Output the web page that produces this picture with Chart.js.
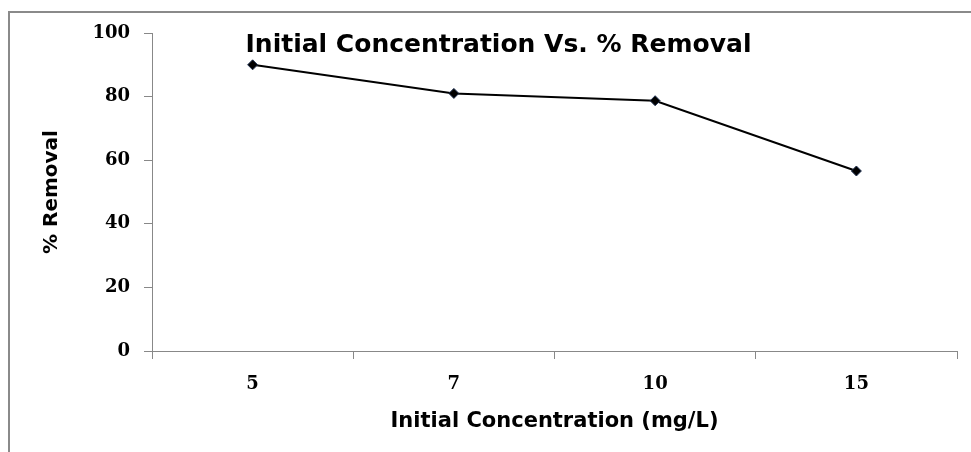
<!DOCTYPE html>
<html>
<head>
<meta charset="utf-8">
<script src="https://cdn.jsdelivr.net/npm/chart.js@4"></script>
<style>
  html, body { margin: 0; padding: 0; background: #fff; }
  #wrap { width: 971px; height: 452px; position: relative; }
</style>
</head>
<body>
<div id="wrap"><canvas id="chart"></canvas></div>
<script>
const categories = ["5", "7", "10", "15"];
const removal = [90, 81, 78.7, 56.6];
const yTicks = [0, 20, 40, 60, 80, 100];

const titleFont = "'DejaVu Sans', sans-serif";
const tickFont = "'DejaVu Serif', serif";
const axisGray = "#888888";

// gray frame around the chart, runs off the right and bottom edges
const framePlugin = {
  id: "frame",
  beforeDraw(chart) {
    const ctx = chart.ctx;
    ctx.save();
    ctx.fillStyle = "#ffffff";
    ctx.fillRect(0, 0, chart.width, chart.height);
    ctx.strokeStyle = "#8a8a8a";
    ctx.lineWidth = 2;
    ctx.strokeRect(9, 12, chart.width + 20, chart.height + 20);
    ctx.restore();
  },
};

new Chart(document.getElementById("chart"), {
  type: "line",
  data: {
    labels: categories,
    datasets: [
      {
        data: removal,
        borderColor: "#000000",
        borderWidth: 2,
        pointStyle: "rectRot",
        pointRadius: 5,
        pointHoverRadius: 5,
        pointBackgroundColor: "#000000",
        pointBorderColor: "#1f3050",
        pointBorderWidth: 1,
        tension: 0,
      },
    ],
  },
  options: {
    responsive: true,
    maintainAspectRatio: false,
    animation: false,
    layout: {
      padding: { left: 40, right: 14, top: 0, bottom: 18 },
    },
    plugins: {
      legend: { display: false },
      tooltip: { enabled: false },
      title: {
        display: true,
        text: "Initial Concentration Vs. % Removal",
        color: "#000000",
        font: { family: titleFont, size: 25, weight: "bold", lineHeight: 1.2 },
        padding: { top: 30, bottom: -27 },
      },
    },
    scales: {
      x: {
        type: "category",
        offset: true,
        grid: {
          offset: true,
          drawOnChartArea: false,
          drawTicks: true,
          tickLength: 8,
          color: axisGray,
        },
        border: { display: true, color: axisGray, width: 1 },
        ticks: {
          color: "#000000",
          font: { family: tickFont, size: 18, weight: "bold" },
          padding: 15,
          maxRotation: 0,
        },
        title: {
          display: true,
          text: "Initial Concentration (mg/L)",
          color: "#000000",
          font: { family: titleFont, size: 21, weight: "bold", lineHeight: 1.2 },
          padding: { top: 0, bottom: 0 },
        },
        afterFit(scale) {
          scale.height = 83;
        },
      },
      y: {
        min: 0,
        max: 100,
        afterBuildTicks(scale) {
          scale.ticks = yTicks.map((v) => ({ value: v }));
        },
        grid: {
          drawOnChartArea: false,
          drawTicks: true,
          tickLength: 8,
          color: axisGray,
        },
        border: { display: true, color: axisGray, width: 1 },
        ticks: {
          color: "#000000",
          font: { family: tickFont, size: 18, weight: "bold" },
          padding: 14,
        },
        title: {
          display: true,
          text: "% Removal",
          color: "#000000",
          font: { family: titleFont, size: 20, weight: "bold", lineHeight: 1.2 },
          padding: { top: 0, bottom: 0 },
        },
        afterFit(scale) {
          scale.width = 112;
        },
      },
    },
  },
  plugins: [framePlugin],
});
</script>
</body>
</html>
